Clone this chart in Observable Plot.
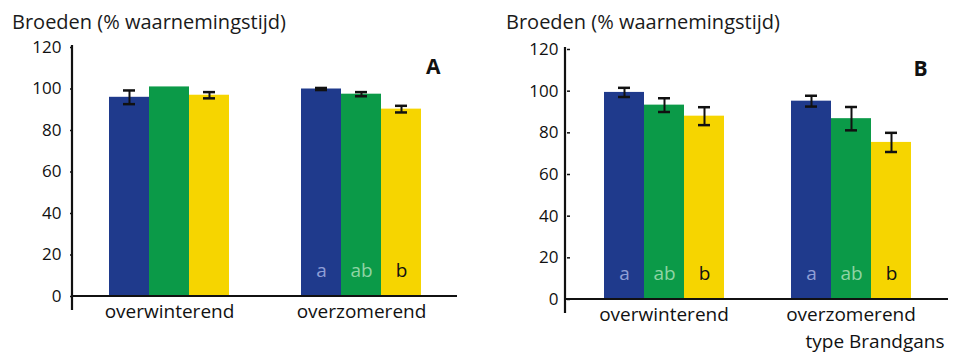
<!DOCTYPE html>
<html><head><meta charset="utf-8">
<script src="https://cdn.jsdelivr.net/npm/d3@7"></script>
<script src="https://cdn.jsdelivr.net/npm/@observablehq/plot@0.6"></script>
<style>
body{margin:0;background:#fff;font-family:"Open Sans",sans-serif;}
#wrap{position:relative;width:963px;height:355px;overflow:hidden;}
.panel{position:absolute;top:0;}
.title{position:absolute;top:11px;font-size:20px;line-height:22px;color:#1a1a1a;white-space:nowrap;font-family:"Open Sans",sans-serif;}
</style>
</head><body>
<div id="wrap"></div>
<script>
const groups = ["overwinterend", "overzomerend"];
const series = ["reeks 1", "reeks 2", "reeks 3"];
const colors = ["#1f3a8c", "#0b9a48", "#f6d500"];
const letterColors = ["#8f9fd6", "#8fd4a4", "#111111"];
const yTicks = [0, 20, 40, 60, 80, 100, 120];
const titleText = "Broeden (% waarnemingstijd)";

const valuesA = [96, 101, 97, 100, 97.5, 90.3];
const errA = [3.3, 0, 1.5, 0.5, 1, 1.6];
const lettersA = ["", "", "", "a", "ab", "b"];

const valuesB = [99.4, 93.3, 88, 95.2, 86.8, 75.4];
const errB = [2.2, 3.3, 4.3, 2.6, 5.6, 4.6];
const lettersB = ["a", "ab", "b", "a", "ab", "b"];

const panelLabels = ["A", "B"];
const extraLabel = "type Brandgans";

function rows(values, errs, letters) {
  return values.map((v, i) => ({
    group: groups[Math.floor(i / 3)],
    series: series[i % 3],
    si: i % 3,
    value: v,
    err: errs[i],
    letter: letters[i]
  }));
}

function makePanel(cfg) {
  const data = cfg.data;
  const withErr = data.filter(d => d.err > 0);
  const font = '"Open Sans", sans-serif';
  const marks = [
    Plot.barY(data, {fx: "group", x: "series", y: "value", fill: "series"}),
    Plot.ruleX(withErr, {fx: "group", x: "series", y1: d => d.value - d.err, y2: d => d.value + d.err, stroke: "#111", strokeWidth: 2}),
    Plot.tickY(withErr, {fx: "group", x: "series", y: d => d.value + d.err, stroke: "#111", strokeWidth: 2.5, insetLeft: 14, insetRight: 14}),
    Plot.tickY(withErr, {fx: "group", x: "series", y: d => d.value - d.err, stroke: "#111", strokeWidth: 2.5, insetLeft: 14, insetRight: 14}),
    ...[0, 1, 2].map(k => Plot.text(data.filter(d => d.letter && d.si === k), {
      fx: "group", x: "series", text: "letter", frameAnchor: "bottom", dy: -20,
      fill: letterColors[k], fontSize: 19
    })),
    Plot.axisY({ticks: yTicks, tickSize: 3, tickPadding: 9, label: null, fontSize: 17, strokeWidth: 1.5}),
    Plot.axisFx({anchor: "bottom", tickSize: 0, tickPadding: 8, label: null, fontSize: 19}),
    Plot.text([{g: groups[1], t: cfg.label}], {fx: "g", text: "t", frameAnchor: "top-right", textAnchor: "end", dx: -17, dy: 12, fontWeight: "bold", fontSize: 21})
  ];
  if (cfg.extra) {
    marks.push(Plot.text([{g: groups[1], t: cfg.extra}], {fx: "g", text: "t", frameAnchor: "bottom-right", textAnchor: "end", dx: 0, dy: 48, fontSize: 19}));
  }
  const plot = Plot.plot({
    width: cfg.width, height: 355,
    marginLeft: cfg.marginLeft, marginRight: cfg.marginRight,
    marginTop: cfg.marginTop, marginBottom: cfg.marginBottom,
    style: {fontFamily: font, fontSize: "16px", background: "transparent", color: "#111", overflow: "visible"},
    fx: {domain: groups, paddingInner: 0, paddingOuter: cfg.fxPad, label: null, axis: null},
    x: {domain: series, paddingInner: 0, paddingOuter: cfg.xPad, axis: null},
    y: {domain: [0, 120], axis: null},
    color: {domain: series, range: colors},
    marks
  });
  // axis lines, positioned from the plot's own y scale and margins
  const ys = plot.scale("y");
  const y0 = ys.apply(0), yTop = ys.apply(120);
  const svg = d3.select(plot);
  svg.append("line").attr("x1", cfg.marginLeft).attr("x2", cfg.width - cfg.marginRight)
    .attr("y1", y0).attr("y2", y0).attr("stroke", "#111").attr("stroke-width", 2.2);
  svg.append("line").attr("x1", cfg.marginLeft).attr("x2", cfg.marginLeft)
    .attr("y1", yTop - 2).attr("y2", y0 + 14).attr("stroke", "#111").attr("stroke-width", 2.2);
  return plot;
}

const wrap = document.getElementById("wrap");
const panels = [
  {left: 0, titleLeft: 12, data: rows(valuesA, errA, lettersA), width: 481, marginLeft: 72, marginRight: 24, marginTop: 47, marginBottom: 59, fxPad: 0, xPad: 0.866, label: panelLabels[0]},
  {left: 480, titleLeft: 26, data: rows(valuesB, errB, lettersB), width: 483, marginLeft: 85, marginRight: 15, marginTop: 49, marginBottom: 56, fxPad: 0.02, xPad: 0.8, label: panelLabels[1], extra: extraLabel}
];
for (const p of panels) {
  const div = document.createElement("div");
  div.className = "panel";
  div.style.left = p.left + "px";
  div.style.width = p.width + "px";
  div.appendChild(makePanel(p));
  const t = document.createElement("div");
  t.className = "title";
  t.style.left = p.titleLeft + "px";
  t.textContent = titleText;
  div.appendChild(t);
  wrap.appendChild(div);
}
</script>
</body></html>
